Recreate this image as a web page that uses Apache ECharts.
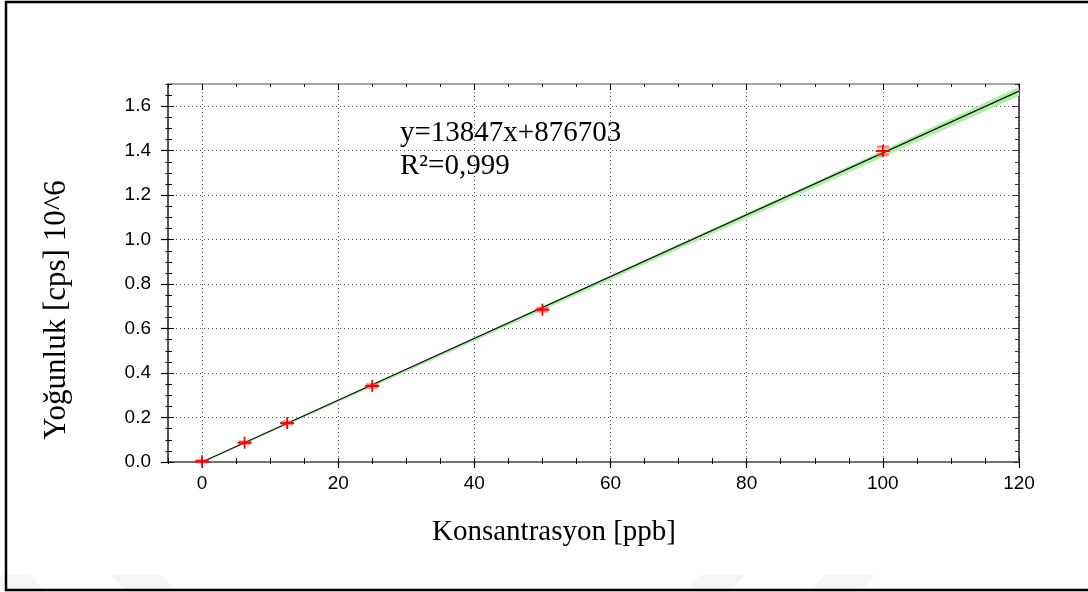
<!DOCTYPE html>
<html><head><meta charset="utf-8">
<script src="https://cdn.jsdelivr.net/npm/echarts@6/dist/echarts.min.js"></script>
<style>html,body{margin:0;padding:0;background:#fff}#c{width:1088px;height:592px}</style>
</head><body><div id="c"></div>
<script>
// ---- data ----
const concX = [0, 6.25, 12.5, 25, 50, 100];
const intensity = [0.003, 0.087, 0.175, 0.342, 0.685, 1.399];
const intensityErr = [0.003, 0.003, 0.004, 0.006, 0.006, 0.018];
const fitX = [0, 120];
const fitY = [0, 1.668];
const bandX = [0, 30, 60, 90, 120];
const bandLo = [-0.004, 0.406, 0.820, 1.233, 1.646];
const bandHi = [0.003, 0.421, 0.840, 1.259, 1.688];
const xTicks = [0, 20, 40, 60, 80, 100, 120];
const yTicks = [0, 0.2, 0.4, 0.6, 0.8, 1.0, 1.2, 1.4, 1.6];
const eqLine1 = 'y=13847x+876703';
const eqLine2 = 'R\u00B2=0,999';
const xTitle = 'Konsantrasyon [ppb]';
const yTitle = 'Yoğunluk [cps] 10^6';

const chart = echarts.init(document.getElementById('c'), null, {renderer: 'canvas'});
const serif = '"Liberation Serif", "Times New Roman", serif';
const sans = '"Liberation Sans", Arial, sans-serif';

function ax(base, extra) {
  const o = Object.assign({
    type: 'value', axisLabel: {show: false},
    axisTick: {show: false}, splitLine: {show: false}
  }, base, extra);
  o.axisLine = Object.assign({show: false}, o.axisLine || {}, {onZero: false});
  return o;
}
const X = {min: -5, max: 120, interval: 5};
const Y = {min: 0, max: 1.7, interval: 0.05};

const xAxes = [
  ax(X, {position: 'bottom',
    axisLine: {show: true, lineStyle: {color: '#707070', width: 2}},
    axisLabel: {show: true, customValues: xTicks, margin: 12, color: '#000', fontFamily: sans, fontSize: 19,
      formatter: v => String(v)},
    axisTick: {show: true, customValues: xTicks, length: 6, lineStyle: {color: '#000', width: 1.2}},
    splitLine: {show: true, lineStyle: {color: '#555', type: [1, 3], width: 1}}
  }),
  ax(X, {position: 'bottom', axisTick: {show: true, length: 2, lineStyle: {color: '#000'}}}),
  ax(X, {position: 'bottom', axisTick: {show: true, inside: true, length: 4, lineStyle: {color: '#000'}}}),
  ax(X, {position: 'top', axisLine: {show: true, lineStyle: {color: '#888', width: 1.5}},
    axisTick: {show: true, inside: true, length: 3, lineStyle: {color: '#000'}}}),
  ax(X, {position: 'top', axisTick: {show: true, inside: true, customValues: xTicks, length: 6, lineStyle: {color: '#000'}}})
];
const yAxes = [
  ax(Y, {position: 'left',
    axisLine: {show: true, lineStyle: {color: '#555', width: 2}},
    axisLabel: {show: true, customValues: yTicks, margin: 17, color: '#000', fontFamily: sans, fontSize: 19,
      formatter: v => v.toFixed(1)},
    axisTick: {show: true, customValues: yTicks, length: 7, lineStyle: {color: '#000', width: 1.2}},
    splitLine: {show: true, lineStyle: {color: '#555', type: [1, 3], width: 1}}
  }),
  ax(Y, {position: 'left', axisTick: {show: true, length: 2.5, lineStyle: {color: '#000'}}}),
  ax(Y, {position: 'left', axisTick: {show: true, inside: true, length: 4, lineStyle: {color: '#000'}}}),
  ax(Y, {position: 'left', axisTick: {show: true, inside: true, customValues: yTicks, length: 6, lineStyle: {color: '#000'}}}),
  ax(Y, {position: 'right', axisLine: {show: true, lineStyle: {color: '#222', width: 1.5}},
    axisTick: {show: true, inside: true, length: 4, lineStyle: {color: '#333'}}}),
  ax(Y, {position: 'right', axisTick: {show: true, inside: true, customValues: yTicks, length: 6, lineStyle: {color: '#333'}}})
];

const bandSeries = {
  type: 'custom', xAxisIndex: 0, yAxisIndex: 0, silent: true, z: 2, data: [0],
  renderItem: (p, api) => {
    const pts = [];
    for (let i = 0; i < bandX.length; i++) pts.push(api.coord([bandX[i], bandHi[i]]));
    for (let i = bandX.length - 1; i >= 0; i--) pts.push(api.coord([bandX[i], bandLo[i]]));
    return {type: 'polygon', shape: {points: pts}, style: {fill: '#aef0a6'}};
  }
};
const fitSeries = {
  type: 'line', xAxisIndex: 0, yAxisIndex: 0, z: 3, symbol: 'none', silent: true,
  data: fitX.map((x, i) => [x, fitY[i]]),
  lineStyle: {color: '#111', width: 1.2}
};
const pointSeries = {
  type: 'custom', xAxisIndex: 0, yAxisIndex: 0, z: 4, clip: false,
  data: concX.map((x, i) => [x, intensity[i], intensityErr[i]]),
  renderItem: (p, api) => {
    const x = api.value(0), y = api.value(1), e = api.value(2);
    const c = api.coord([x, y]);
    const hi = api.coord([x, y + e]);
    const lo = api.coord([x, y - e]);
    const top = Math.min(hi[1], c[1] - 6), bot = Math.max(lo[1], c[1] + 6);
    return {type: 'group', children: [
      {type: 'line', shape: {x1: c[0] - 6, y1: hi[1], x2: c[0] + 6, y2: hi[1]}, style: {stroke: 'rgba(255,60,60,0.6)', lineWidth: 3}},
      {type: 'line', shape: {x1: c[0] - 6, y1: lo[1], x2: c[0] + 6, y2: lo[1]}, style: {stroke: 'rgba(255,60,60,0.6)', lineWidth: 3}},
      {type: 'line', shape: {x1: c[0], y1: top, x2: c[0], y2: bot}, style: {stroke: '#ff0000', lineWidth: 1.8}},
      {type: 'line', shape: {x1: c[0] - 7, y1: c[1], x2: c[0] + 7, y2: c[1]}, style: {stroke: '#ff0000', lineWidth: 2}}
    ]};
  }
};

function wm(x, w, s) {
  return {type: 'polygon', silent: true, z: -10,
    shape: {points: [[x, 575], [x + w, 575], [x + w + s, 592], [x + s, 592]]},
    style: {fill: '#f6f6f6'}};
}

chart.setOption({
  animation: false,
  backgroundColor: '#fff',
  grid: {left: 168, right: 69, top: 84, bottom: 130, show: false},
  xAxis: xAxes,
  yAxis: yAxes,
  series: [bandSeries, fitSeries, pointSeries],
  graphic: [
    wm(-10, 40, 15), wm(110, 50, 18), wm(700, 45, -15), wm(825, 50, -15),
    {type: 'rect', silent: true, shape: {x: 6, y: 2, width: 1100, height: 588},
      style: {fill: 'none', stroke: '#000', lineWidth: 2.5}},
    {type: 'text', x: 400, y: 133, silent: true,
      style: {text: eqLine1, fontFamily: serif, fontSize: 29, fill: '#000', align: 'left', verticalAlign: 'middle', textAlign: 'left', textVerticalAlign: 'middle'}},
    {type: 'text', x: 400, y: 166, silent: true,
      style: {text: eqLine2, fontFamily: serif, fontSize: 29, fill: '#000', align: 'left', verticalAlign: 'middle', textAlign: 'left', textVerticalAlign: 'middle'}},
    {type: 'text', x: 554, y: 532, silent: true,
      style: {text: xTitle, fontFamily: serif, fontSize: 29, fill: '#000', align: 'center', verticalAlign: 'middle', textAlign: 'center', textVerticalAlign: 'middle'}},
    {type: 'text', x: 57, y: 310, rotation: Math.PI / 2, silent: true,
      style: {text: yTitle, fontFamily: serif, fontSize: 31, fill: '#000', align: 'center', verticalAlign: 'middle', textAlign: 'center', textVerticalAlign: 'middle'}}
  ]
});
</script></body></html>
